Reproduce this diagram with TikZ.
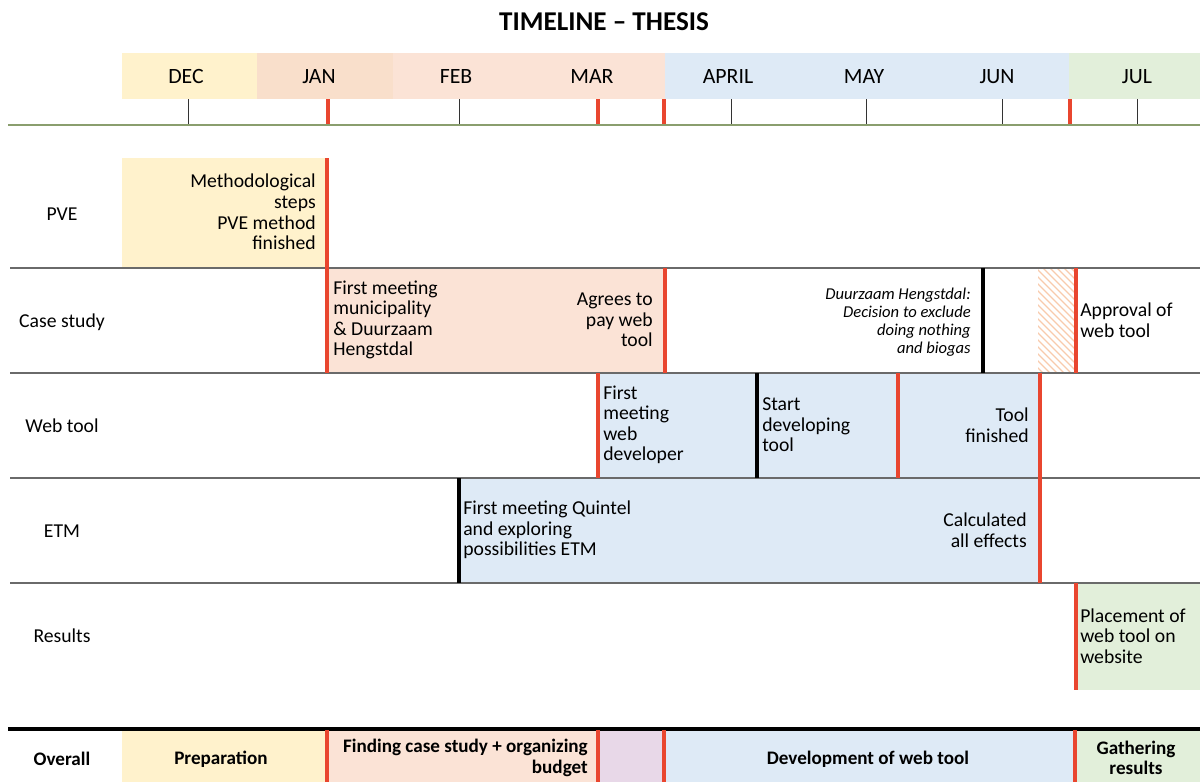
\documentclass[tikz,border=0pt]{standalone}
\usepackage{fontspec}
\setmainfont{Carlito}
\definecolor{prepyellow}{HTML}{FFF2CC}
\definecolor{janpeach}{HTML}{F9DFCB}
\definecolor{peach}{HTML}{FBE3D6}
\definecolor{hatchpeach}{HTML}{F8CBAD}
\definecolor{devblue}{HTML}{DEEAF6}
\definecolor{resgreen}{HTML}{E2EFDA}
\definecolor{budgetpurple}{HTML}{E8D8E8}
\definecolor{mark}{HTML}{E9462F}
\definecolor{rowline}{HTML}{6A6A6A}
\definecolor{baseline}{HTML}{8A9E6E}
\begin{document}
\begin{tikzpicture}[x=0.025cm,y=-0.025cm,
  txt/.style={inner sep=0pt,font=\fontsize{14}{14.6}\selectfont},
  lefttxt/.style={txt,anchor=west,align=left},
  righttxt/.style={txt,anchor=east,align=right},
  ittxt/.style={inner sep=0pt,anchor=east,align=right,font=\itshape\fontsize{11.8}{12.9}\selectfont},
  rowlabel/.style={txt},
  month/.style={inner sep=0pt,font=\fontsize{15.5}{17}\selectfont},
  overall/.style={inner sep=0pt,font=\bfseries\fontsize{13.6}{14.6}\selectfont},
  redbar/.style={draw=mark,line width=2.2pt},
  blackbar/.style={draw=black,line width=2.2pt},
  redtick/.style={draw=mark,line width=2.2pt},
  blacktick/.style={draw=black!80,line width=0.7pt},
  sepline/.style={draw=rowline,line width=1.3pt},
  hatchline/.style={draw=hatchpeach,line width=0.9pt}]
\useasboundingbox (0,0) rectangle (1200,782);

% title
\node[inner sep=0pt,font=\bfseries\fontsize{19.3}{22}\selectfont] (title) at (604,22) {TIMELINE -- THESIS};

% month header band
\fill[prepyellow] (122,53) rectangle (257,99);
\fill[janpeach] (257,53) rectangle (393,99);
\fill[peach] (393,53) rectangle (665,99);
\fill[devblue] (665,53) rectangle (1069,99);
\fill[resgreen] (1069,53) rectangle (1200,99);
\node[month] (mdec) at (186,77) {DEC};
\node[month] (mjan) at (319,77) {JAN};
\node[month] (mfeb) at (456,77) {FEB};
\node[month] (mmar) at (592,77) {MAR};
\node[month] (mapr) at (728,77) {APRIL};
\node[month] (mmay) at (864,77) {MAY};
\node[month] (mjun) at (997,77) {JUN};
\node[month] (mjul) at (1137,77) {JUL};

% tick marks and axis
\foreach \x in {188,459,731,866,1002,1137} \draw[blacktick] (\x,99) -- (\x,125);
\foreach \x in {328,598,664,1070} \draw[redtick] (\x,99) -- (\x,125);
\draw[draw=baseline,line width=1.4pt] (8,125) -- (1200,125);

% coloured blocks of the rows
\fill[prepyellow] (122,158) rectangle (327,268);
\fill[peach] (327,268) rectangle (665,373);
\begin{scope}
  \clip (1038,269) rectangle (1074,372);
  \foreach \i in {-120,-113,...,40} \draw[hatchline] (1038+\i,262) -- (1038+\i+115,377);
\end{scope}
\fill[devblue] (598,373) rectangle (1040,478);
\fill[devblue] (459,478) rectangle (1040,583);
\fill[resgreen] (1076,583) rectangle (1200,690);

% row separators
\foreach \y in {268,373,478,583} \draw[sepline] (10,\y) -- (1200,\y);

% milestone bars
\draw[redbar] (327,158) -- (327,373);
\draw[redbar] (665,268) -- (665,373);
\draw[blackbar] (983,268) -- (983,373);
\draw[redbar] (1076,268) -- (1076,373);
\draw[redbar] (598,373) -- (598,478);
\draw[blackbar] (757,373) -- (757,478);
\draw[redbar] (898,373) -- (898,478);
\draw[redbar] (1040,373) -- (1040,583);
\draw[blackbar] (459,478) -- (459,583);
\draw[redbar] (1076,583) -- (1076,690);

% row labels
\node[rowlabel] (lpve) at (62,214) {PVE};
\node[rowlabel] (lcase) at (62,322) {Case study};
\node[rowlabel] (lweb) at (62,426) {Web tool};
\node[rowlabel] (letm) at (62,531) {ETM};
\node[rowlabel] (lres) at (62,636) {Results};

% PVE
\node[righttxt] (pvedone) at (316,212) {Methodological\\steps\\PVE method\\finished};

% case study
\node[lefttxt] (firstmeet) at (333,320) {First meeting\\municipality\\\& Duurzaam\\Hengstdal};
\node[righttxt] (agrees) at (653,320) {Agrees to\\pay web\\tool};
\node[ittxt] (decision) at (971,322) {Duurzaam Hengstdal:\\Decision to exclude\\doing nothing\\and biogas};
\node[lefttxt] (approval) at (1080,320) {Approval of\\web tool};

% web tool
\node[lefttxt] (devmeet) at (603,425) {First\\meeting\\web\\developer};
\node[lefttxt] (startdev) at (762,425) {Start\\developing\\tool};
\node[righttxt] (toolfin) at (1029,425) {Tool\\finished};

% ETM
\node[lefttxt] (quintel) at (463,530) {First meeting Quintel\\and exploring\\possibilities ETM};
\node[righttxt] (effects) at (1027,530) {Calculated\\all effects};

% results
\node[lefttxt] (placement) at (1080,636) {Placement of\\web tool on\\website};

% overall phases
\fill[prepyellow] (122,730) rectangle (327,782);
\fill[peach] (327,730) rectangle (598,782);
\fill[budgetpurple] (598,730) rectangle (664,782);
\fill[devblue] (664,730) rectangle (1075,782);
\fill[resgreen] (1075,730) rectangle (1200,782);
\draw[draw=black,line width=2.2pt] (8,729) -- (1200,729);
\foreach \x in {327,598,664,1075} \draw[redbar] (\x,730) -- (\x,782);
\node[overall] (ov) at (62,759) {Overall};
\node[overall] (prep) at (221,759) {Preparation};
\node[overall,anchor=east,align=right] (finding) at (588,758) {Finding case study + organizing\\budget};
\node[overall] (devphase) at (868,759) {Development of web tool};
\node[overall,align=center] (gather) at (1136,758) {Gathering\\results};
\end{tikzpicture}
\end{document}
